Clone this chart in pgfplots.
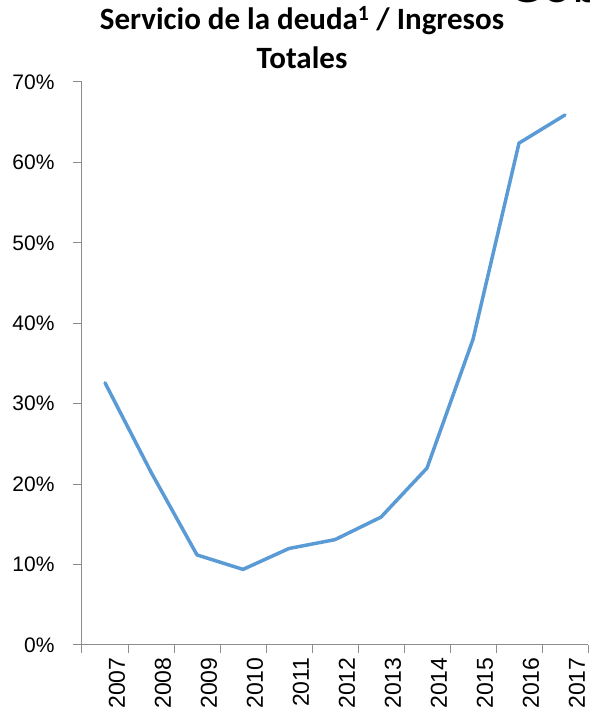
\documentclass[border=0pt]{standalone}
\usepackage{fontspec}
\setmainfont{Liberation Sans}
\newfontfamily\titlefont{Carlito}
\usepackage{pgfplots}
\pgfplotsset{compat=1.18}
\definecolor{xlblue}{HTML}{5B9BD5}
\definecolor{axgray}{HTML}{8C8C8C}
\begin{document}
\begin{tikzpicture}
\begin{axis}[
  at={(82pt,72pt)}, anchor=south west,
  scale only axis, width=506pt, height=563pt,
  xmin=-0.5, xmax=10.5, ymin=0, ymax=70,
  axis lines=left,
  axis line style={-, axgray, line width=1pt},
  xtick={0,...,10},
  xticklabels={2007,2008,2009,2010,2011,2012,2013,2014,2015,2016,2017},
  major x tick style={draw=none},
  minor xtick={-0.5,0.5,...,10.5},
  minor tick length=8pt,
  minor x tick style={axgray, line width=1pt},
  ytick={0,10,...,70},
  yticklabels={0\%,10\%,20\%,30\%,40\%,50\%,60\%,70\%},
  major tick length=9pt,
  tick align=outside,
  y tick style={axgray, line width=1pt},
  yticklabel style={font=\fontsize{21}{21}\selectfont, xshift=-15pt},
  xticklabel style={font=\fontsize{23}{23}\selectfont, rotate=90, anchor=east, yshift=-12pt},
  clip=false,
]
\addplot[xlblue, line width=3.5pt, line join=round, line cap=round] coordinates {
  (0,32.6) (1,21.5) (2,11.2) (3,9.4) (4,12.0) (5,13.1) (6,15.9) (7,22.0) (8,38.0) (9,62.4) (10,65.9)
};
\end{axis}
\node[anchor=base, font=\titlefont\bfseries\fontsize{31}{31}\selectfont, inner sep=0pt] at (302pt,687pt) {Servicio de la deuda\textsuperscript{1} / Ingresos};
\node[anchor=base, font=\titlefont\bfseries\fontsize{31}{31}\selectfont, inner sep=0pt] at (302pt,648pt) {Totales};
\node[anchor=base west, font=\titlefont\fontsize{56}{56}\selectfont, inner sep=0pt] at (507pt,714pt) {Gob};
\pgfresetboundingbox
\useasboundingbox (0,0) rectangle (589pt,717pt);
\end{tikzpicture}
\end{document}
